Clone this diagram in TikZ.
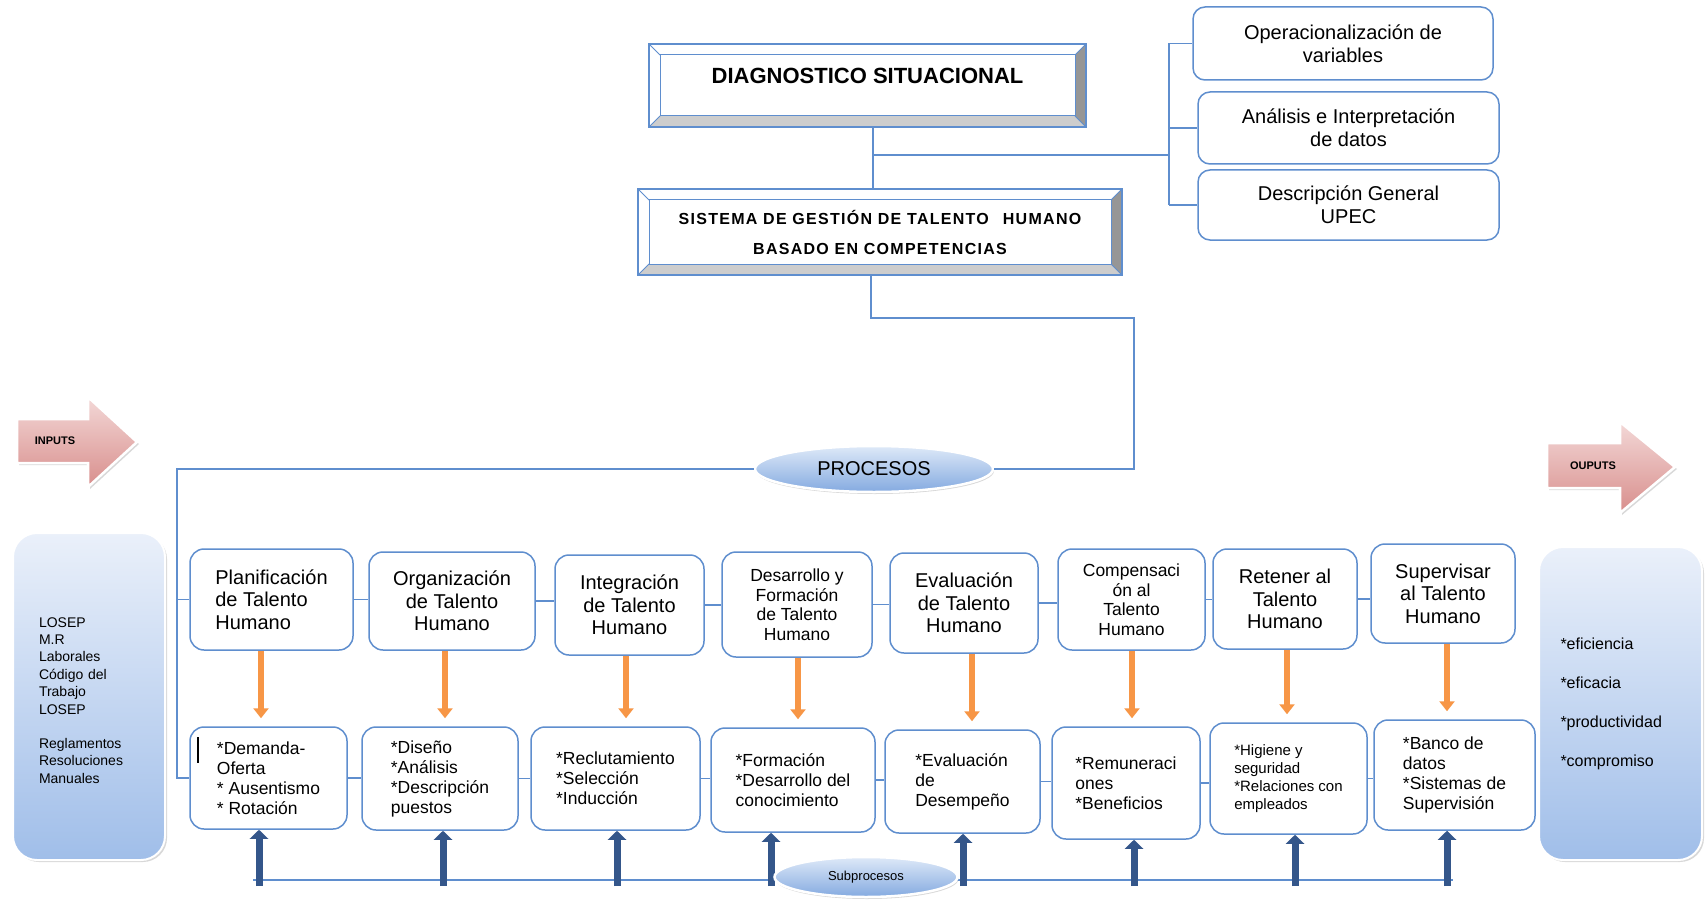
\documentclass[tikz,border=0pt]{standalone}
\usepackage{fontspec}
\setmainfont{Liberation Sans}
\newfontfamily\spacedfont[LetterSpace=8]{Liberation Sans}
\usetikzlibrary{positioning, arrows.meta, shapes.geometric, shadows}

\definecolor{lineblue}{RGB}{95,142,206}
\definecolor{arrowblue}{RGB}{52,86,138}
\definecolor{arroworange}{RGB}{247,150,70}
\definecolor{bevelgray}{RGB}{150,150,150}
\definecolor{bevellight}{RGB}{205,205,205}
\definecolor{pinktop}{RGB}{243,216,215}
\definecolor{pinkbottom}{RGB}{216,142,140}
\definecolor{sidetop}{RGB}{234,240,250}
\definecolor{sidebottom}{RGB}{160,190,233}
\definecolor{balltop}{RGB}{222,233,248}
\definecolor{ballbottom}{RGB}{132,170,224}

\begin{document}
\begin{tikzpicture}[x=1pt, y=-1pt,
    link/.style={lineblue, line width=1.5pt},
    bevelbox/.style={draw=lineblue, line width=1.2pt, fill=white,
      path picture={
        \path (path picture bounding box.north west) coordinate (bnw)
              (path picture bounding box.north east) coordinate (bne)
              (path picture bounding box.south east) coordinate (bse)
              (path picture bounding box.south west) coordinate (bsw);
        \fill[bevelgray] (bne) -- (bse) -- ([shift={(-11pt,11pt)}]bse) -- ([shift={(-11pt,-11pt)}]bne) -- cycle;
        \fill[bevellight] (bsw) -- (bse) -- ([shift={(-11pt,11pt)}]bse) -- ([shift={(11pt,11pt)}]bsw) -- cycle;
        \draw[lineblue, line width=1pt] ([shift={(11pt,-11pt)}]bnw) rectangle ([shift={(-11pt,11pt)}]bse);
        \draw[lineblue, line width=0.8pt] (bnw) -- ([shift={(11pt,-11pt)}]bnw)
          (bne) -- ([shift={(-11pt,-11pt)}]bne) (bse) -- ([shift={(-11pt,11pt)}]bse)
          (bsw) -- ([shift={(11pt,11pt)}]bsw);
      }},
    infobox/.style={draw=lineblue, line width=1.5pt, rounded corners=12pt, fill=white,
      align=center, font=\fontsize{20}{23}\selectfont},
    procbox/.style={draw=lineblue, line width=1.5pt, rounded corners=14pt, fill=white,
      align=center, inner sep=2pt, font=\fontsize{20}{22.5}\selectfont},
    smallproc/.style={procbox, font=\fontsize{17.5}{19.5}\selectfont},
    subbox/.style={procbox, align=left, font=\fontsize{17.5}{20}\selectfont},
    procellipse/.style={ellipse, draw=white, line width=2.5pt, top color=balltop, bottom color=ballbottom,
      drop shadow={opacity=0.3, shadow xshift=1pt, shadow yshift=-2pt}},
    sidebox/.style={draw=white, line width=2pt, rounded corners=24pt, top color=sidetop, bottom color=sidebottom,
      drop shadow={opacity=0.3, shadow xshift=2pt, shadow yshift=-2pt}},
    pinkarrow/.style={draw=white, line width=2.5pt, top color=pinktop, bottom color=pinkbottom,
      drop shadow={opacity=0.3, shadow xshift=2pt, shadow yshift=-2pt}},
    ornarrow/.style={arroworange, line width=6pt, -{Triangle[width=15pt,length=10pt]}},
    subarrow/.style={arrowblue, line width=7pt, -{Triangle[width=18pt,length=9pt]}},
  ]
  \useasboundingbox[fill=white] (0,0) rectangle (1705,904);

  % top part
  \node[bevelbox, minimum width=437pt, minimum height=83pt, align=center,
    font=\bfseries\fontsize{22}{20}\selectfont] (diag) at (867.5,85.5) {DIAGNOSTICO SITUACIONAL\\\mbox{}};
  \node[bevelbox, minimum width=484pt, minimum height=86pt, align=center,
    font=\spacedfont\bfseries\fontsize{16}{30}\selectfont] (sis) at (880,232)
    {SISTEMA DE GESTIÓN DE TALENTO\hspace{14pt}HUMANO\\BASADO EN COMPETENCIAS};

  \node[infobox, minimum width=300pt, minimum height=73pt] (oper) at (1343,43.5) {Operacionalización de\\variables};
  \node[infobox, minimum width=301pt, minimum height=72pt] (anal) at (1348.5,128) {Análisis e Interpretación\\de datos};
  \node[infobox, minimum width=301pt, minimum height=70pt] (desc) at (1348.5,205) {Descripción General\\UPEC};

  \coordinate (trunk) at (873,155);
  \coordinate (spine) at (1169,155);
  \draw[link] (diag.south -| trunk) -- (sis.north -| trunk);
  \draw[link] (trunk) -- (spine);
  \draw[link] (spine |- oper.west) -- (spine |- desc.west);
  \foreach \b in {oper, anal, desc}
    \draw[link] (spine |- \b.west) -- (\b.west);

  % procesos
  \node[procellipse, minimum width=238pt, minimum height=46pt, font=\fontsize{20}{22}\selectfont] (proc) at (874,469) {PROCESOS};
  \coordinate (drop) at (871,318);
  \coordinate (elbow) at (1134,318);
  \draw[link] (sis.south -| drop) -- (drop) -- (elbow) |- (proc.east);

  % process row
  \node[procbox, align=left, minimum width=163pt, minimum height=101pt] (t1) at (271.5,599.5) {Planificación\\de Talento\\Humano};
  \node[procbox, minimum width=166pt, minimum height=98pt] (t2) at (452,601) {Organización\\de Talento\\Humano};
  \node[procbox, minimum width=149pt, minimum height=100pt] (t3) at (629.5,605) {Integración\\de Talento\\Humano};
  \node[smallproc, minimum width=150pt, minimum height=105pt] (t4) at (797,604.5) {Desarrollo y\\Formación\\de Talento\\Humano};
  \node[procbox, minimum width=148pt, minimum height=100pt] (t5) at (964,603) {Evaluación\\de Talento\\Humano};
  \node[smallproc, minimum width=147pt, minimum height=101pt] (t6) at (1131.5,599.5) {Compensaci\\ón al\\Talento\\Humano};
  \node[procbox, minimum width=144pt, minimum height=100pt] (t7) at (1285,599) {Retener al\\Talento\\Humano};
  \node[procbox, minimum width=144pt, minimum height=99pt] (t8) at (1443,593.5) {Supervisar\\al Talento\\Humano};

  % subprocess row
  \node[subbox, minimum width=157pt, minimum height=102pt] (b1) at (268.5,778) {*Demanda-\\Oferta\\* Ausentismo\\* Rotación};
  \node[subbox, minimum width=156pt, minimum height=103pt] (b2) at (440,778.5) {*Diseño\\*Análisis\\*Descripción\\puestos};
  \node[subbox, minimum width=169pt, minimum height=103pt] (b3) at (615.5,778.5) {*Reclutamiento\\*Selección\\*Inducción};
  \node[subbox, minimum width=164pt, minimum height=104pt] (b4) at (793,780) {*Formación\\*Desarrollo del\\conocimiento};
  \node[subbox, minimum width=155pt, minimum height=103pt] (b5) at (962.5,781.5) {*Evaluación\\de\\Desempeño};
  \node[subbox, minimum width=148pt, minimum height=112pt] (b6) at (1126,783) {*Remuneraci\\ones\\*Beneficios};
  \node[subbox, minimum width=157pt, minimum height=111pt, font=\fontsize{15}{18}\selectfont] (b7) at (1288.5,778.5) {*Higiene y\\seguridad\\*Relaciones con\\empleados};
  \node[subbox, minimum width=161pt, minimum height=110pt] (b8) at (1454.5,775) {*Banco de\\datos\\*Sistemas de\\Supervisión};
  \draw[black, line width=1.2pt] (198,737) -- (198,763);

  \foreach \i [count=\j from 2] in {1,...,7} {
    \draw[link] (t\i.east) -- (t\i.east -| t\j.west);
    \draw[link] (b\i.east) -- (b\i.east -| b\j.west);
  }

  \coordinate (lft) at (177,470);
  \draw[link] (proc.west) -- (proc.west -| lft) |- (b1.west);
  \draw[link] (lft |- t1.west) -- (t1.west);

  \foreach \i/\x in {1/261,2/445,3/626,4/798,5/972,6/1132,7/1287,8/1447}
    \draw[ornarrow] (t\i.south -| \x,0) -- ([yshift=8pt]b\i.north -| \x,0);

  % subprocesos
  \coordinate (subl) at (253,880);
  \coordinate (subr) at (1453,880);
  \draw[link] (subl) -- (subr);
  \foreach \i/\x in {1/259,2/443,3/617,4/771,5/963,6/1134,7/1295,8/1447}
    \draw[subarrow] (subl -| \x,0) ++(0,6) -- (b\i.south -| \x,0);
  \node[procellipse, minimum width=183pt, minimum height=40pt, font=\fontsize{13}{15}\selectfont] (subp) at (866,877) {Subprocesos};

  % inputs / outputs
  \path[pinkarrow] (17,419) -- (88,419) -- (88,397) -- (137,442) -- (88,487) -- (88,463) -- (17,463) -- cycle;
  \node[font=\bfseries\fontsize{11}{12}\selectfont] (inputs) at (55,441) {INPUTS};
  \path[pinkarrow] (1547,443) -- (1620,443) -- (1620,422) -- (1675,467) -- (1620,513) -- (1620,488) -- (1547,488) -- cycle;
  \node[font=\bfseries\fontsize{11}{12}\selectfont] (outputs) at (1593,466) {OUPUTS};

  \node[sidebox, minimum width=152pt, minimum height=327pt, text width=100pt, align=left,
    font=\fontsize{14}{17.4}\selectfont] (laws) at (89,696.5)
    {\mbox{}\\LOSEP\\M.R\\Laborales\\Código del\\Trabajo\\LOSEP\\[17pt]Reglamentos\\Resoluciones\\Manuales};
  \node[sidebox, minimum width=163pt, minimum height=313pt, text width=120pt, align=left,
    font=\fontsize{16}{20}\selectfont] (results) at (1620.5,703.5)
    {*eficiencia\\[19pt]*eficacia\\[19pt]*productividad\\[19pt]*compromiso};
\end{tikzpicture}
\end{document}
